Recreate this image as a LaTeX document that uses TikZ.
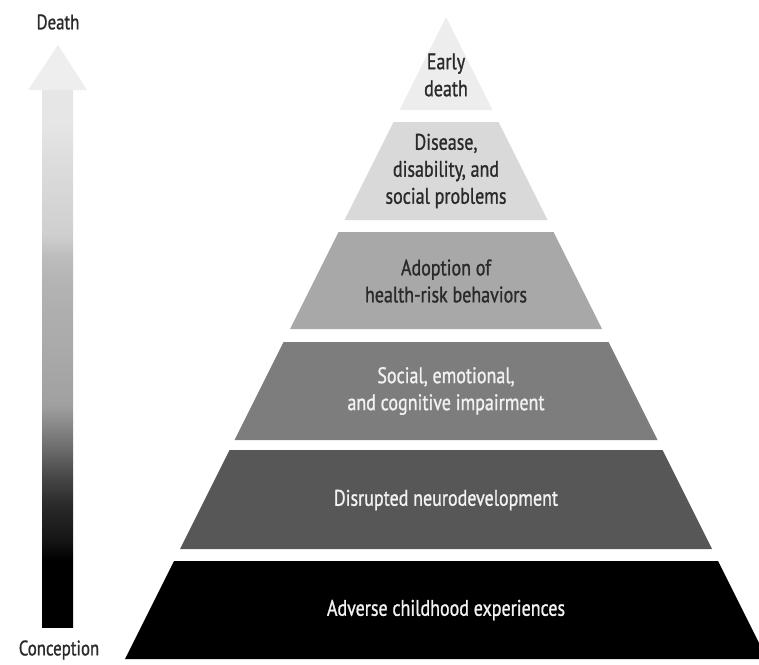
\documentclass[tikz,border=0pt]{standalone}
\usepackage{fontspec}
\newfontfamily\labfont{PT Sans}[FakeStretch=0.8,FakeBold=1]
\definecolor{lay1}{HTML}{EDEDED}
\definecolor{lay2}{HTML}{D9D9D9}
\definecolor{lay3}{HTML}{A8A8A8}
\definecolor{lay4}{HTML}{7D7D7D}
\definecolor{lay5}{HTML}{575757}
\definecolor{lay6}{HTML}{000000}
\definecolor{darktext}{HTML}{2A2A2A}
\definecolor{lighttext}{HTML}{F2F2F2}
\definecolor{arrowhead}{HTML}{EEEEEE}
\definecolor{ash1}{HTML}{E6E6E6}
\definecolor{ash2}{HTML}{DCDCDC}
\definecolor{ash3}{HTML}{CFCFCF}
\definecolor{ash4}{HTML}{BDBDBD}
\definecolor{ash5}{HTML}{B4B4B4}
\definecolor{ash6}{HTML}{AEAEAE}
\definecolor{ash7}{HTML}{A8A8A8}
\definecolor{ash8}{HTML}{A0A0A0}
\definecolor{ash9}{HTML}{888888}
\definecolor{ash10}{HTML}{6A6A6A}
\definecolor{ash11}{HTML}{4A4A4A}
\definecolor{ash12}{HTML}{2A2A2A}
\definecolor{ash13}{HTML}{151515}
\pgfdeclareverticalshading{arrowshade}{100bp}{%
color(0bp)=(black); color(25bp)=(black); color(31.2bp)=(black);
color(33.1bp)=(ash13); color(36.4bp)=(ash12); color(39.2bp)=(ash11);
color(41.5bp)=(ash10); color(43.8bp)=(ash9); color(45.7bp)=(ash8);
color(49.9bp)=(ash7); color(54bp)=(ash6); color(57.3bp)=(ash5);
color(59.6bp)=(ash4); color(61.5bp)=(ash3); color(68bp)=(ash2);
color(72bp)=(ash1); color(75bp)=(ash1); color(100bp)=(ash1)}
\tikzset{
  lab/.style={font=\labfont\fontsize{22.5}{27}\selectfont, align=center, inner sep=0pt},
  labdark/.style={lab, text=darktext},
  lablight/.style={lab, text=lighttext},
  endlab/.style={font=\labfont\fontsize{21}{24}\selectfont, text=darktext, inner sep=0pt}
}
\newcommand\pyrband[3]{%
  \fill[#3] ({446-0.5*(#1-17)},#1) -- ({446+0.5*(#1-17)},#1) --
            ({446+0.5*(#2-17)},#2) -- ({446-0.5*(#2-17)},#2) -- cycle;}
\begin{document}
\begin{tikzpicture}[x=1pt,y=-1pt]
\useasboundingbox (0,0) rectangle (759,664);
\clip (0,0) rectangle (759,664);
% arrow
\fill[arrowhead] (58,45) -- (87,90) -- (28,90) -- cycle;
\shade[shading=arrowshade] (42,90) rectangle (73,627);
\node[endlab] (death) at (58,22) {Death};
\node[endlab] (conception) at (59,650) {Conception};
% pyramid
\pyrband{17}{110}{lay1}
\pyrband{122}{220}{lay2}
\pyrband{232}{329}{lay3}
\pyrband{342}{440}{lay4}
\pyrband{450}{549}{lay5}
\pyrband{561}{659}{lay6}
\node[labdark] (l1) at (446,75) {Early\\death};
\node[labdark] (l2) at (446,171) {Disease,\\disability, and\\social problems};
\node[labdark] (l3) at (446,281) {Adoption of\\health-risk behaviors};
\node[lablight] (l4) at (446,391) {Social, emotional,\\and cognitive impairment};
\node[lablight] (l5) at (446,500) {Disrupted neurodevelopment};
\node[lablight] (l6) at (446,610) {Adverse childhood experiences};
\end{tikzpicture}
\end{document}
